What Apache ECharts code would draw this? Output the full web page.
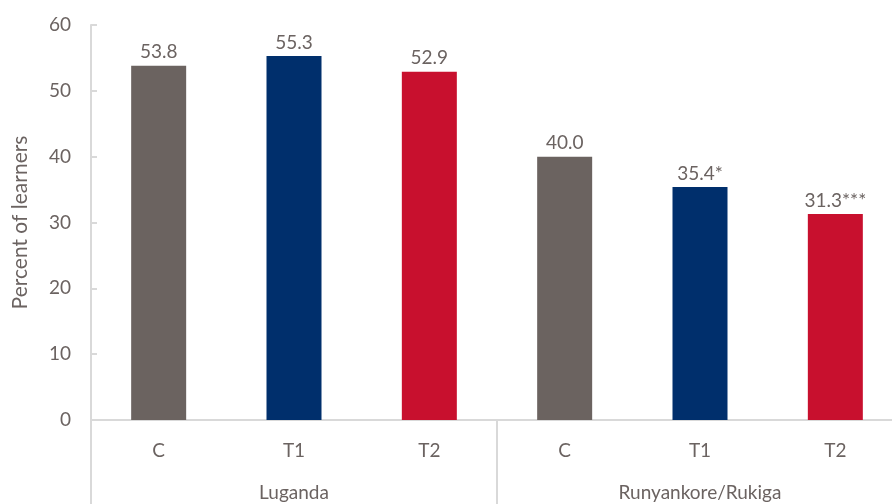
<!DOCTYPE html>
<html>
<head>
<meta charset="utf-8">
<script src="https://cdn.jsdelivr.net/npm/echarts@6/dist/echarts.min.js"></script>
<style>
html,body{margin:0;padding:0;background:#fff;overflow:hidden;width:892px;height:504px;}
#chart{width:903px;height:504px;}
</style>
</head>
<body>
<div id="chart"></div>
<script>
// categories and values
var categories = ['C', 'T1', 'T2', 'C', 'T1', 'T2'];
var groups = ['Luganda', 'Runyankore/Rukiga'];
var values = [53.8, 55.3, 52.9, 40.0, 35.4, 31.3];
var valueLabels = ['53.8', '55.3', '52.9', '40.0', '35.4*', '31.3***'];
var barColors = ['#6b6360', '#002f6c', '#c8102e', '#6b6360', '#002f6c', '#c8102e'];

var textColor = '#6b6361';
var lineColor = '#d9d9d9';
var font = 'Lato';

// the chart is wider than the window: its right end is cut off, as in the original
var chart = echarts.init(document.getElementById('chart'));

var option = {
    animation: false,
    textStyle: { fontFamily: font },
    grid: {
        left: 91,
        top: 25,
        right: 0,
        bottom: 84
    },
    xAxis: [
        {
            type: 'category',
            data: categories,
            position: 'bottom',
            axisLine: { show: true, lineStyle: { color: lineColor, width: 2 } },
            axisTick: { show: false },
            axisLabel: { color: textColor, fontSize: 19, fontFamily: font, margin: 21 }
        },
        {
            type: 'category',
            data: groups,
            position: 'bottom',
            axisLine: { show: false },
            axisTick: { show: true, alignWithLabel: false, length: 90, lineStyle: { color: lineColor, width: 2 } },
            axisLabel: { color: textColor, fontSize: 19, fontFamily: font, margin: 63 }
        }
    ],
    yAxis: {
        type: 'value',
        min: 0,
        max: 60,
        interval: 10,
        name: 'Percent of learners',
        nameLocation: 'middle',
        nameGap: 60,
        nameTextStyle: { color: textColor, fontSize: 21, fontFamily: font },
        axisLine: { show: true, lineStyle: { color: lineColor, width: 2 } },
        axisTick: { show: true, inside: true, length: 6, lineStyle: { color: lineColor, width: 2 } },
        splitLine: { show: false },
        axisLabel: { color: textColor, fontSize: 19, fontFamily: font, margin: 20 }
    },
    series: [
        {
            type: 'bar',
            xAxisIndex: 0,
            barWidth: 55,
            data: values.map(function (v, i) {
                return { value: v, itemStyle: { color: barColors[i] } };
            }),
            label: {
                show: true,
                position: 'top',
                distance: 4,
                color: textColor,
                fontSize: 19,
                fontFamily: font,
                formatter: function (p) { return valueLabels[p.dataIndex]; }
            }
        }
    ]
};

chart.setOption(option);

window.addEventListener('resize', function () {
    chart.resize();
});
</script>
</body>
</html>
